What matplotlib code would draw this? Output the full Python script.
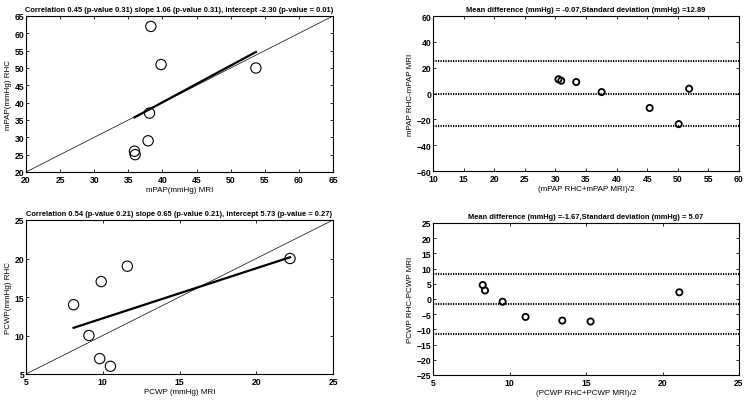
import matplotlib
matplotlib.use("Agg")
import matplotlib.pyplot as plt
import numpy as np

plt.rcParams['font.family'] = ['Liberation Sans', 'DejaVu Sans']
plt.rcParams['font.weight'] = 'bold'

# mPAP correlation data (MRI, RHC)
mpap_mri = [38.3, 39.8, 53.7, 38.1, 37.9, 35.9, 36.0]
mpap_rhc = [62, 51, 50, 37, 29, 26, 25]
mpap_slope, mpap_intercept = 1.06, -2.30
mpap_title = "Correlation 0.45 (p-value 0.31) slope 1.06 (p-value 0.31), intercept -2.30 (p-value = 0.01)"

# mPAP Bland-Altman
mpap_ba_mean = [50.15, 45.4, 51.85, 37.55, 33.4, 30.95, 30.5]
mpap_ba_diff = [-23.7, -11.2, 3.7, 1.1, 8.9, 9.9, 11.0]
mpap_md, mpap_sd = -0.07, 12.89
mpap_ba_title = "Mean difference (mmHg) = -0.07,Standard deviation (mmHg) =12.89"

# PCWP correlation data
pcwp_mri = [8.1, 9.1, 9.8, 9.9, 10.5, 11.6, 22.2]
pcwp_rhc = [14, 10, 7, 17, 6, 19, 20]
pcwp_slope, pcwp_intercept = 0.65, 5.73
pcwp_title = "Correlation 0.54 (p-value 0.21) slope 0.65 (p-value 0.21), intercept 5.73 (p-value = 0.27)"

# PCWP Bland-Altman
pcwp_ba_mean = [11.05, 9.55, 8.4, 13.45, 8.25, 15.3, 21.1]
pcwp_ba_diff = [-5.9, -0.9, 2.8, -7.1, 4.6, -7.4, 2.2]
pcwp_md, pcwp_sd = -1.67, 5.07
pcwp_ba_title = "Mean difference (mmHg) =-1.67,Standard deviation (mmHg) = 5.07"

W, H = 751, 402
fig = plt.figure(figsize=(W/100, H/100), dpi=100)

def add_ax(l, t, r, b):
    return fig.add_axes([l/W, 1-b/H, (r-l)/W, (b-t)/H])

fs = 5.8
tks = 6.2
tfs = 5.45

def style(ax):
    ax.tick_params(direction='in', top=True, right=True, labelsize=tks, length=2.5, width=0.6)
    ax.tick_params(axis='x', pad=2.0)
    ax.tick_params(axis='y', pad=1.2)
    for s in ax.spines.values():
        s.set_linewidth(0.8)

def corr(ax, x, y, slope, intercept, lim, ticks, title, xl, yl):
    ax.plot(lim, lim, color='black', lw=0.5)
    xs = np.array([min(x), max(x)])
    ax.plot(xs, slope*xs + intercept, color='black', lw=1.6)
    ax.scatter(x, y, s=55, facecolors='none', edgecolors='black', linewidths=0.8, zorder=3)
    ax.set_xlim(lim); ax.set_ylim(lim)
    ax.set_xticks(ticks); ax.set_yticks(ticks)
    ax.set_title(title, fontsize=tfs, fontweight='bold', pad=3.8)
    ax.set_xlabel(xl, fontsize=fs, labelpad=1.5)
    ax.set_ylabel(yl, fontsize=fs, labelpad=1.5)
    style(ax)

def ba(ax, m, d, md, sd, xlim, ylim, xt, yt, title, xl, yl):
    for v in (md + 1.96*sd, md, md - 1.96*sd):
        ax.axhline(v, color='black', lw=1.5, ls=(0, (0.6, 0.6)))
    ax.scatter(m, d, s=20, facecolors='none', edgecolors='black', linewidths=1.3, zorder=3)
    ax.set_xlim(xlim); ax.set_ylim(ylim)
    ax.set_xticks(xt); ax.set_yticks(yt)
    ax.set_title(title, fontsize=tfs, fontweight='bold', pad=3.8)
    ax.set_xlabel(xl, fontsize=fs, labelpad=1.5)
    ax.set_ylabel(yl, fontsize=fs, labelpad=1.5)
    style(ax)

ax1 = add_ax(26, 17, 333, 173)
corr(ax1, mpap_mri, mpap_rhc, mpap_slope, mpap_intercept, [20, 65], np.arange(20, 66, 5),
     mpap_title, "mPAP(mmHg) MRI", "mPAP(mmHg) RHC")

ax2 = add_ax(433, 17, 739, 172)
ba(ax2, mpap_ba_mean, mpap_ba_diff, mpap_md, mpap_sd, [10, 60], [-60, 60],
   np.arange(10, 61, 5), np.arange(-60, 61, 20), mpap_ba_title,
   "(mPAP RHC+mPAP MRI)/2", "mPAP RHC-mPAP MRI")

ax3 = add_ax(26, 221, 333, 375)
corr(ax3, pcwp_mri, pcwp_rhc, pcwp_slope, pcwp_intercept, [5, 25], np.arange(5, 26, 5),
     pcwp_title, "PCWP (mmHg) MRI", "PCWP(mmHg) RHC")

ax4 = add_ax(433, 224, 739, 376)
ba(ax4, pcwp_ba_mean, pcwp_ba_diff, pcwp_md, pcwp_sd, [5, 25], [-25, 25],
   np.arange(5, 26, 5), np.arange(-25, 26, 5), pcwp_ba_title,
   "(PCWP RHC+PCWP MRI)/2", "PCWP RHC-PCWP MRI")

fig.savefig("out.png", dpi=100, facecolor='white')
